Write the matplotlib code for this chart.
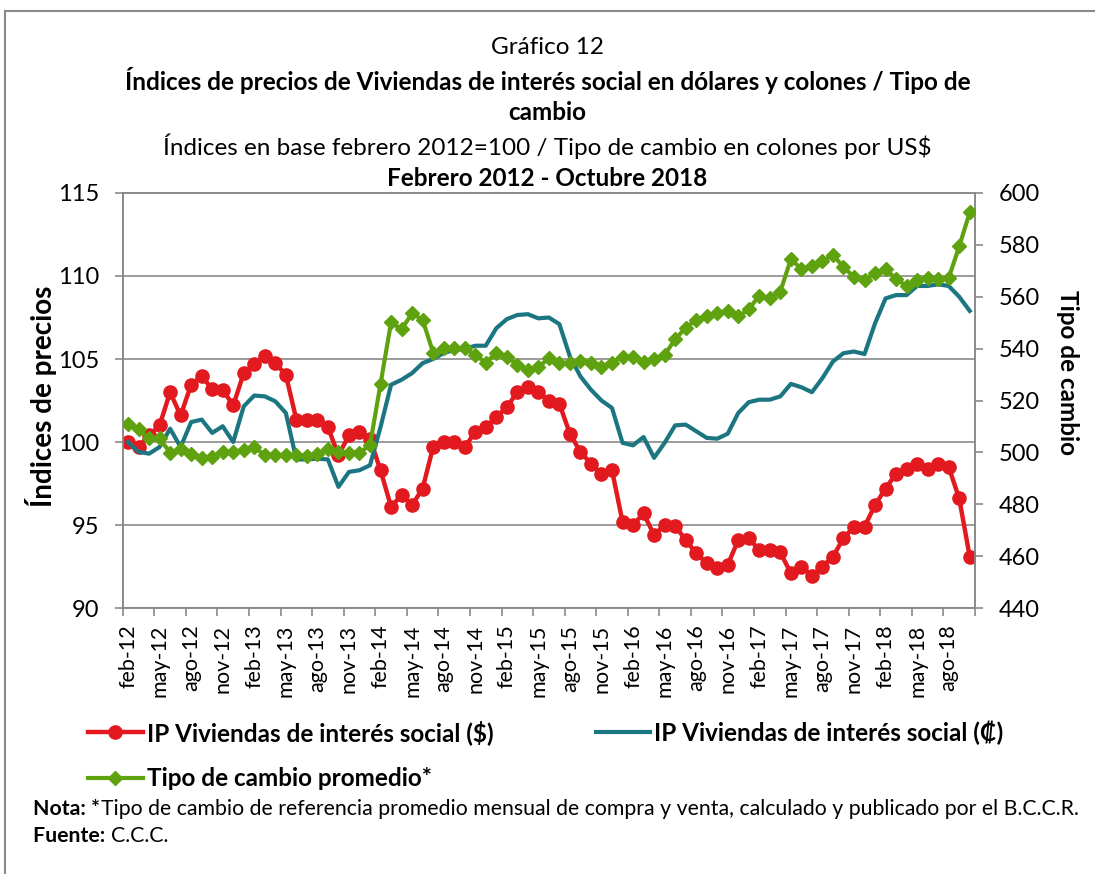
import numpy as np
import matplotlib.pyplot as plt
from matplotlib.lines import Line2D

plt.rcParams['font.family'] = ['Lato', 'DejaVu Sans']

# datos mensuales feb-2012 a oct-2018
ip_dolares = [100.0, 99.7, 100.4, 101.0, 103.0, 101.6, 103.45, 103.95, 103.2, 103.15,
              102.2, 104.15, 104.7, 105.2, 104.75, 104.05, 101.35, 101.35, 101.35, 100.9,
              99.2, 100.4, 100.6, 100.2, 98.3, 96.1, 96.8, 96.2, 97.2, 99.7,
              100.0, 100.0, 99.7, 100.6, 100.9, 101.5, 102.1, 103.0, 103.3, 103.0,
              102.5, 102.3, 100.5, 99.4, 98.7, 98.1, 98.3, 95.2, 95.0, 95.7,
              94.4, 95.0, 94.95, 94.1, 93.3, 92.7, 92.4, 92.6, 94.1, 94.2,
              93.5, 93.5, 93.35, 92.1, 92.5, 91.95, 92.5, 93.1, 94.2, 94.9,
              94.9, 96.2, 97.2, 98.1, 98.4, 98.7, 98.4, 98.7, 98.5, 96.6,
              93.1]
ip_colones = [100.0, 99.4, 99.3, 99.7, 100.8, 99.7, 101.2, 101.35, 100.55, 100.95,
              100.0, 102.15, 102.8, 102.75, 102.45, 101.75, 98.95, 98.95, 99.0, 98.95,
              97.3, 98.2, 98.3, 98.6, 100.9, 103.45, 103.75, 104.15, 104.75, 105.0,
              105.35, 105.55, 105.6, 105.8, 105.8, 106.85, 107.4, 107.65, 107.7, 107.45,
              107.5, 107.1, 105.15, 103.95, 103.15, 102.5, 102.05, 99.95, 99.8, 100.3,
              99.05, 99.95, 101.0, 101.05, 100.65, 100.25, 100.2, 100.5, 101.75, 102.4,
              102.55, 102.55, 102.75, 103.5, 103.3, 103.0, 103.85, 104.85, 105.35, 105.45,
              105.3, 107.15, 108.65, 108.85, 108.85, 109.4, 109.4, 109.5, 109.4, 108.75,
              107.9]
tipo_cambio = [510.8, 508.9, 505.4, 505.4, 499.9, 501.2, 499.4, 497.7, 498.3, 500.3,
               500.3, 500.9, 501.9, 499.0, 499.0, 499.0, 499.0, 498.6, 499.4, 501.5,
               500.3, 499.9, 499.9, 502.8, 526.4, 550.1, 547.5, 553.6, 551.1, 538.5,
               540.2, 540.2, 540.2, 537.6, 534.6, 538.2, 536.9, 533.7, 531.8, 532.8,
               536.3, 534.6, 534.4, 535.4, 534.6, 533.1, 534.6, 536.9, 536.9, 535.0,
               535.9, 537.6, 543.6, 548.0, 551.1, 552.4, 553.7, 554.6, 552.4, 555.2,
               560.4, 559.5, 562.0, 574.5, 570.7, 571.9, 573.6, 576.2, 571.4, 567.6,
               566.3, 569.1, 570.7, 566.8, 564.2, 566.3, 567.2, 566.8, 567.2, 579.4,
               592.5]
etiquetas = ["feb-12", "may-12", "ago-12", "nov-12", "feb-13", "may-13", "ago-13",
             "nov-13", "feb-14", "may-14", "ago-14", "nov-14", "feb-15", "may-15",
             "ago-15", "nov-15", "feb-16", "may-16", "ago-16", "nov-16", "feb-17",
             "may-17", "ago-17", "nov-17", "feb-18", "may-18", "ago-18"]

rojo = "#E2191F"
azul = "#1C7682"
verde = "#5FA20F"
gris = "#8A8A8A"

W, H = 1095, 874
x = np.arange(len(ip_dolares))

fig = plt.figure(figsize=(W / 100, H / 100), dpi=100)
ax = fig.add_axes([0.1121, 0.3043, 0.7783, 0.4749])
ax2 = ax.twinx()

l1, = ax.plot(x, ip_dolares, color=rojo, lw=3.2, marker="o", ms=9.5, zorder=3)
l2, = ax.plot(x, ip_colones, color=azul, lw=3.0, zorder=4)
l3, = ax2.plot(x, tipo_cambio, color=verde, lw=3.0, marker="D", ms=7, zorder=3)

ax.set_xlim(-0.5, len(x) - 0.5)
ax.set_ylim(90, 115)
ax.set_yticks(range(90, 116, 5))
ax2.set_ylim(440, 600)
ax2.set_yticks(range(440, 601, 20))
ax.grid(axis="y", color=gris, lw=1.2)
ax.set_axisbelow(True)

ax.set_xticks(x[::3])
ax.set_xticklabels(etiquetas, rotation=90, fontsize=15.5)
ax.set_xticks(np.arange(-0.5, len(x), 3), minor=True)
ax.tick_params(axis="x", which="major", length=0, pad=12)
ax.tick_params(axis="x", which="minor", length=6, width=1.2, color=gris, direction="out")
ax.tick_params(axis="y", length=6, width=1.2, color=gris, labelsize=17, pad=11)
ax2.tick_params(axis="y", length=6, width=1.2, color=gris, labelsize=17, pad=11)

for a in (ax, ax2):
    for s in a.spines.values():
        s.set_color(gris)
        s.set_linewidth(1.2)

fig.text(41 / W, 1 - 396 / H, "Índices de precios", rotation=90, ha="center", va="center",
         fontsize=20, fontweight="bold")
fig.text(1067 / W, 1 - 372 / H, "Tipo de cambio", rotation=-90, ha="center", va="center",
         fontsize=17.5, fontweight="bold")

fig.text(0.5, 1 - 47 / H, "Gráfico 12", ha="center", va="center", fontsize=17.5)
fig.text(0.5, 1 - 80 / H, "Índices de precios de Viviendas de interés social en dólares y colones / Tipo de",
         ha="center", va="center", fontsize=17.5, fontweight="bold")
fig.text(0.5, 1 - 113 / H, "cambio", ha="center", va="center", fontsize=17.5, fontweight="bold")
fig.text(0.5, 1 - 146 / H, "Índices en base febrero 2012=100 / Tipo de cambio en colones por US$",
         ha="center", va="center", fontsize=17.5)
fig.text(0.5, 1 - 178 / H, "Febrero 2012 - Octubre 2018", ha="center", va="center",
         fontsize=17.5, fontweight="bold")

# orden para que quede: fila 1 rojo y azul, fila 2 verde
fig.legend([l1, l3, l2],
           ["IP Viviendas de interés social ($)", "Tipo de cambio promedio*",
            "IP Viviendas de interés social (₡)"],
           ncol=2, loc="upper left", bbox_to_anchor=(88 / W, 1 - 720 / H),
           frameon=False, prop={"weight": "bold", "size": 17.5},
           borderpad=0, borderaxespad=0,
           handlelength=2.25, handletextpad=0.17, columnspacing=4.2, labelspacing=0.92)

# nota y fuente: parte en negrita seguida del texto normal
renderer = fig.canvas.get_renderer()
for y, negrita, normal in [(809, "Nota: *", "Tipo de cambio de referencia promedio mensual de compra y venta, calculado y publicado por el B.C.C.R."),
                           (836, "Fuente: ", "C.C.C.")]:
    t = fig.text(33 / W, 1 - y / H, negrita, ha="left", va="center", fontsize=15.3, fontweight="bold")
    ancho = t.get_window_extent(renderer).width
    fig.text((33 + ancho + 1) / W, 1 - y / H, normal, ha="left", va="center", fontsize=15.3)

# marco exterior (solo arriba e izquierda visibles)
fig.add_artist(Line2D([5 / W, 1.0], [1 - 11 / H, 1 - 11 / H], color=gris, lw=1.5))
fig.add_artist(Line2D([5 / W, 5 / W], [0.0, 1 - 11 / H], color=gris, lw=1.5))

fig.savefig("out.png", dpi=100)
